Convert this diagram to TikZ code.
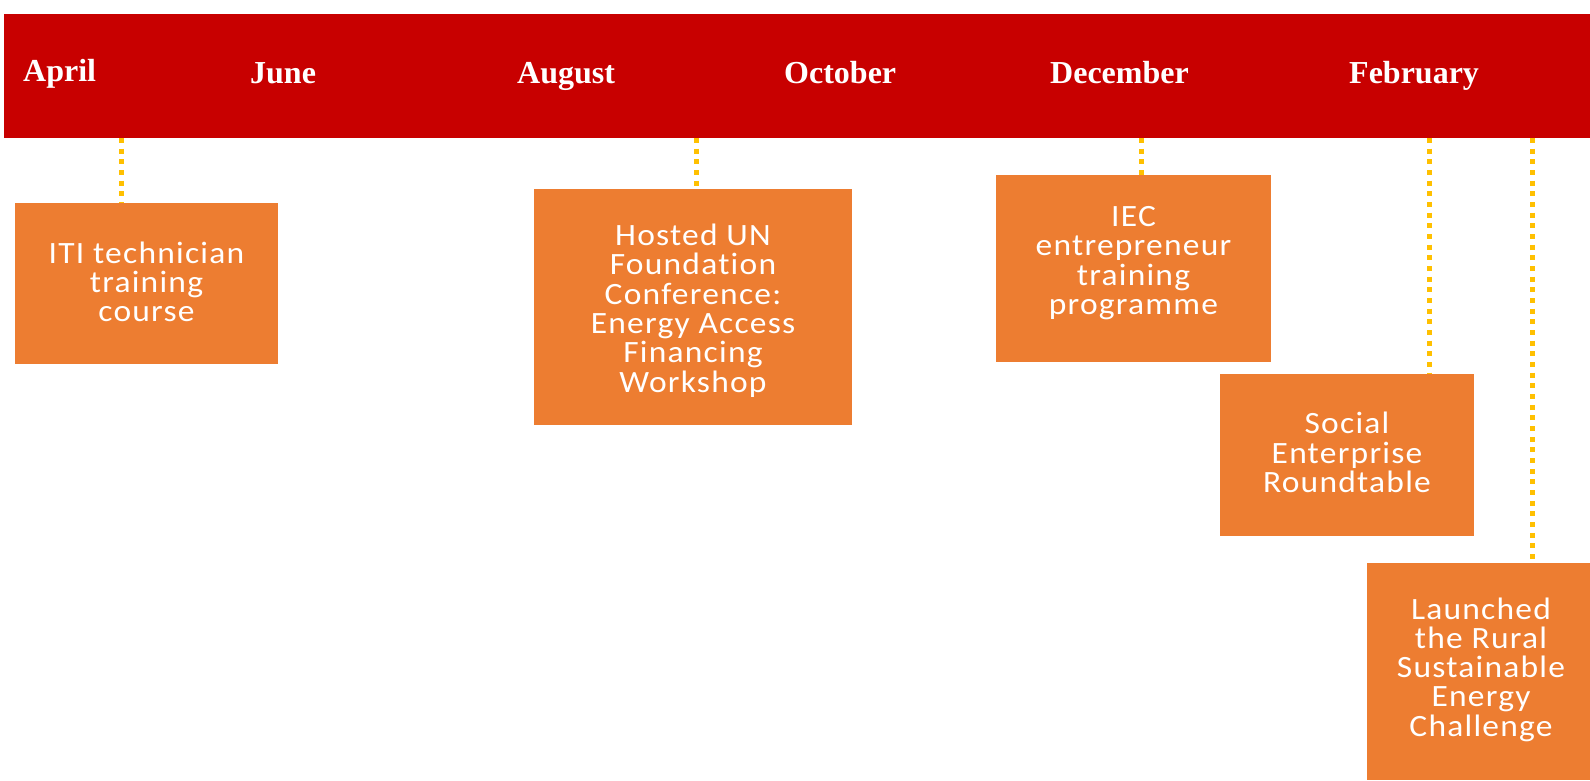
\documentclass[tikz,border=0pt]{standalone}
\usepackage{fontspec}
\setmainfont{Liberation Serif}
\newfontfamily\boxfont[LetterSpace=4, FakeStretch=1.08, Ligatures=NoCommon]{Carlito}
\usetikzlibrary{calc}

\definecolor{bandred}{HTML}{C80000}
\definecolor{eventorange}{HTML}{ED7D31}
\definecolor{linkgold}{HTML}{FFC000}

\tikzset{
  band/.style={fill=bandred, draw=none, inner sep=0pt, anchor=north west},
  month/.style={anchor=base west, inner sep=0pt, text=white,
    font=\fontsize{32}{36}\selectfont\bfseries},
  eventbox/.style={fill=eventorange, draw=none, inner sep=0pt},
  eventtext/.style={inner sep=0pt, text=white, align=center,
    font=\boxfont\fontsize{31}{29.3}\selectfont},
  link/.style={draw=linkgold, line width=5pt, dash pattern=on 5pt off 5.67pt}
}

\begin{document}
\begin{tikzpicture}[x=1pt, y=-1pt]
  \useasboundingbox (0,0) rectangle (1590,780);

  % timeline band with month labels
  \node[band, minimum width=1586pt, minimum height=124pt] (band) at (4,14) {};
  \node[month] (apr) at (23,81) {April};
  \node[month] (jun) at (250,83) {June};
  \node[month] (aug) at (517,83) {August};
  \node[month] (oct) at (784,83) {October};
  \node[month] (dec) at (1050,83) {December};
  \node[month] (feb) at (1349,83) {February};

  % event boxes
  \node[eventbox, minimum width=263pt, minimum height=161pt] (b1) at (146.5,283.5) {};
  \node[eventbox, minimum width=318pt, minimum height=236pt] (b2) at (693,307) {};
  \node[eventbox, minimum width=275pt, minimum height=187pt] (b3) at (1133.5,268.5) {};
  \node[eventbox, minimum width=254pt, minimum height=162pt] (b4) at (1347,455) {};
  \node[eventbox, minimum width=223pt, minimum height=217pt] (b5) at (1478.5,671.5) {};

  % attachment points on the band
  \coordinate (p1) at (121,138);
  \coordinate (p2) at (696,138);
  \coordinate (p3) at (1141,138);
  \coordinate (p4) at (1429,138);
  \coordinate (p5) at (1532,138);

  % dotted connectors
  \draw[link] (p1) -- (p1 |- b1.north);
  \draw[link] (p2) -- (p2 |- b2.north);
  \draw[link] (p3) -- (p3 |- b3.north);
  \draw[link] (p4) -- (p4 |- b4.north);
  \draw[link] (p5) -- (p5 |- b5.north);

  % event texts
  \node[eventtext] (t1) at (146.5,282) {ITI technician\\training\\course};
  \node[eventtext] (t2) at (693,310.5) {Hosted UN\\Foundation\\Conference:\\Energy Access\\Financing\\Workshop};
  \node[eventtext] (t3) at (1133.5,263) {IEC\\entrepreneur\\training\\programme};
  \node[eventtext] (t4) at (1347,452.5) {Social\\Enterprise\\Roundtable};
  \node[eventtext] (t5) at (1481,669.5) {Launched\\the Rural\\Sustainable\\Energy\\Challenge};
\end{tikzpicture}
\end{document}
